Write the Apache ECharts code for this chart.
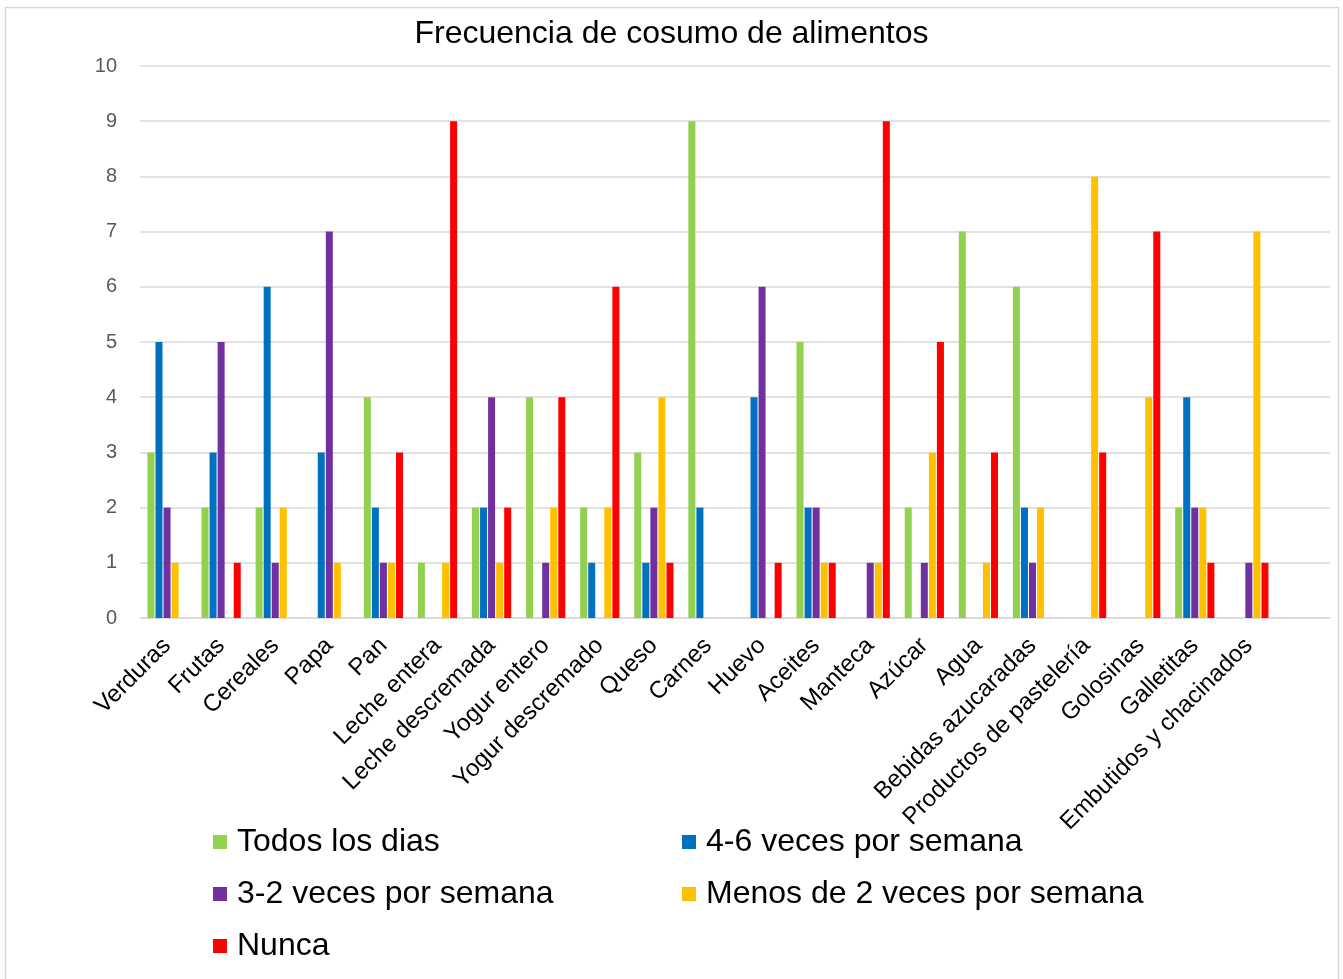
<!DOCTYPE html>
<html>
<head>
<meta charset="utf-8">
<title>Frecuencia de cosumo de alimentos</title>
<script src="https://cdn.jsdelivr.net/npm/echarts@6/dist/echarts.min.js"></script>
<style>
  html, body { margin: 0; padding: 0; background: #ffffff; }
  #chart { width: 1343px; height: 979px; }
</style>
</head>
<body>
<div id="chart"></div>
<script>
// Food categories (the trailing blank slot keeps the plot's right margin)
const categories = [
  'Verduras', 'Frutas', 'Cereales', 'Papa', 'Pan', 'Leche entera',
  'Leche descremada', 'Yogur entero', 'Yogur descremado', 'Queso', 'Carnes',
  'Huevo', 'Aceites', 'Manteca', 'Azúcar', 'Agua', 'Bebidas azucaradas',
  'Productos de pastelería', 'Golosinas', 'Galletitas', 'Embutidos y chacinados', ''
];

const seriesNames = [
  'Todos los dias',
  '4-6 veces por semana',
  '3-2 veces por semana',
  'Menos de 2 veces por semana',
  'Nunca'
];

// Number of answers per food, one array per frequency
const todosLosDias  = [3, 2, 2, 0, 4, 1, 2, 4, 2, 3, 9, 0, 5, 0, 2, 7, 6, 0, 0, 2, 0, null];
const cuatroSeis    = [5, 3, 6, 3, 2, 0, 2, 0, 1, 1, 2, 4, 2, 0, 0, 0, 2, 0, 0, 4, 0, null];
const tresDos       = [2, 5, 1, 7, 1, 0, 4, 1, 0, 2, 0, 6, 2, 1, 1, 0, 1, 0, 0, 2, 1, null];
const menosDeDos    = [1, 0, 2, 1, 1, 1, 1, 2, 2, 4, 0, 0, 1, 1, 3, 1, 2, 8, 4, 2, 7, null];
const nunca         = [0, 1, 0, 0, 3, 9, 2, 4, 6, 1, 0, 1, 1, 9, 5, 3, 0, 3, 7, 1, 1, null];

const yTicks = [0, 1, 2, 3, 4, 5, 6, 7, 8, 9, 10];

const seriesValues = [todosLosDias, cuatroSeis, tresDos, menosDeDos, nunca];
const seriesColors = ['#92d050', '#0070c0', '#7030a0', '#ffc000', '#ff0000'];

const chart = echarts.init(document.getElementById('chart'), null, { renderer: 'canvas' });

const option = {
  backgroundColor: '#ffffff',
  animation: false,
  color: seriesColors,
  title: {
    text: 'Frecuencia de cosumo de alimentos',
    left: 'center',
    top: 13,
    textStyle: {
      fontFamily: 'Liberation Sans, Arial, sans-serif',
      fontSize: 32,
      fontWeight: 'normal',
      color: '#000000'
    }
  },
  legend: {
    data: seriesNames,
    left: 208,
    top: 816,
    width: 950,
    orient: 'horizontal',
    icon: 'rect',
    itemWidth: 14,
    itemHeight: 14,
    itemGap: 10,
    textStyle: {
      fontFamily: 'Liberation Sans, Arial, sans-serif',
      fontSize: 32,
      color: '#000000',
      width: 435,
      lineHeight: 42,
      padding: [0, 0, 0, 5]
    }
  },
  grid: {
    left: 140,
    right: 13,
    top: 66,
    bottom: 361,
    containLabel: false
  },
  xAxis: {
    type: 'category',
    data: categories,
    boundaryGap: true,
    axisLine: { show: true, lineStyle: { color: '#d9d9d9', width: 1.5 } },
    axisTick: { show: false },
    splitLine: { show: false },
    axisLabel: {
      interval: 0,
      rotate: 45,
      margin: 24,
      fontFamily: 'Liberation Sans, Arial, sans-serif',
      fontSize: 24,
      color: '#000000'
    }
  },
  yAxis: {
    type: 'value',
    min: yTicks[0],
    max: yTicks[yTicks.length - 1],
    interval: 1,
    axisLine: { show: false },
    axisTick: { show: false },
    splitLine: { show: true, lineStyle: { color: '#d9d9d9', width: 1.5 } },
    axisLabel: {
      margin: 23,
      fontFamily: 'Liberation Sans, Arial, sans-serif',
      fontSize: 20,
      color: '#595959'
    }
  },
  series: seriesNames.map((name, i) => ({
    name: name,
    type: 'bar',
    data: seriesValues[i],
    barWidth: 7,
    barGap: '15%',
    itemStyle: { color: seriesColors[i] }
  })),
  graphic: [{
    type: 'rect',
    silent: true,
    z: -1,
    shape: { x: 5.5, y: 7.5, width: 1333, height: 1000 },
    style: { fill: 'none', stroke: '#d9d9d9', lineWidth: 1.5 }
  }]
};

chart.setOption(option);
</script>
</body>
</html>
